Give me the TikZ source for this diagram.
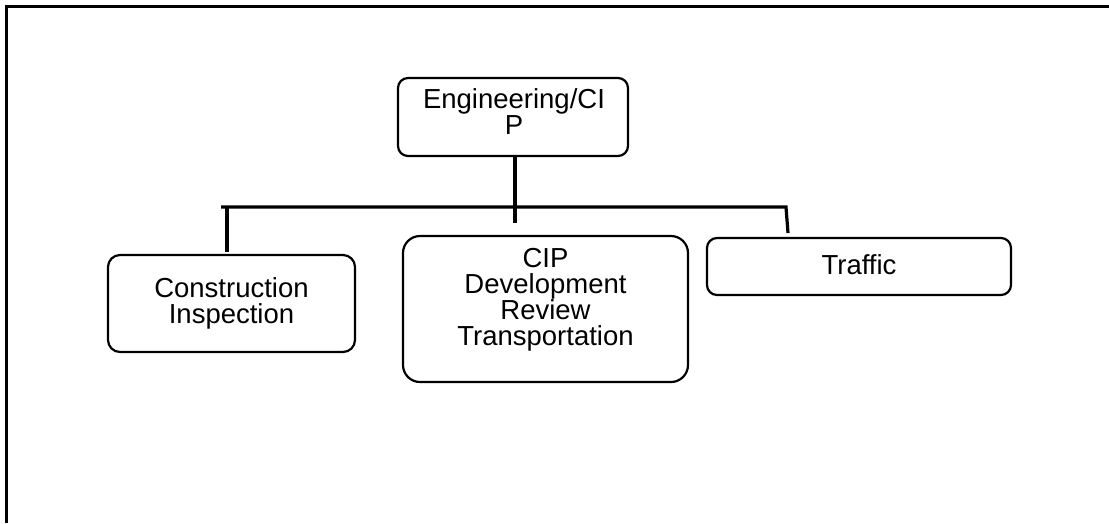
\documentclass[tikz,border=0pt]{standalone}
\usepackage{fontspec}
\setmainfont{Liberation Sans}
\begin{document}
\begin{tikzpicture}[x=1pt,y=-1pt,
  box/.style={draw=black, line width=2.2pt, fill=white, inner sep=0pt},
  txt/.style={inner sep=0pt, anchor=north, align=center,
    font=\fontsize{27.5}{26}\selectfont},
  conn/.style={draw=black, line width=3.2pt},
  frame/.style={draw=black, line width=3pt}]
\useasboundingbox (0,0) rectangle (1109,523);
\draw[frame] (1109,6) -- (6,6) -- (6,523);
% boxes
\node[box, rounded corners=10pt, minimum width=230pt, minimum height=78pt] (eng) at (513,117) {};
\node[txt] (engT) at (514,88) {Engineering/CI\\P};
\node[box, rounded corners=12pt, minimum width=247pt, minimum height=97pt] (con) at (231.5,303.5) {};
\node[txt] (conT) at (231.5,277) {Construction\\Inspection};
\node[box, rounded corners=17pt, minimum width=285pt, minimum height=146pt] (cip) at (545.5,309) {};
\node[txt] (cipT) at (545.5,248) {CIP\\Development\\Review\\Transportation};
\node[box, rounded corners=10pt, minimum width=304pt, minimum height=57pt] (tra) at (859,266.5) {};
\node[txt] (traT) at (859,254) {Traffic};
% connectors
\coordinate (busL) at (221,207);
\coordinate (busR) at (786,207);
\coordinate (ctrEnd) at (515,223);
\coordinate (trEnd) at (788,233);
\coordinate (conTop) at (227,252);
\draw[conn] (eng.south -| ctrEnd) -- (ctrEnd);
\draw[conn] (busL) -- (busR) -- (trEnd);
\draw[conn] (busL -| conTop) -- (conTop);
\end{tikzpicture}
\end{document}
